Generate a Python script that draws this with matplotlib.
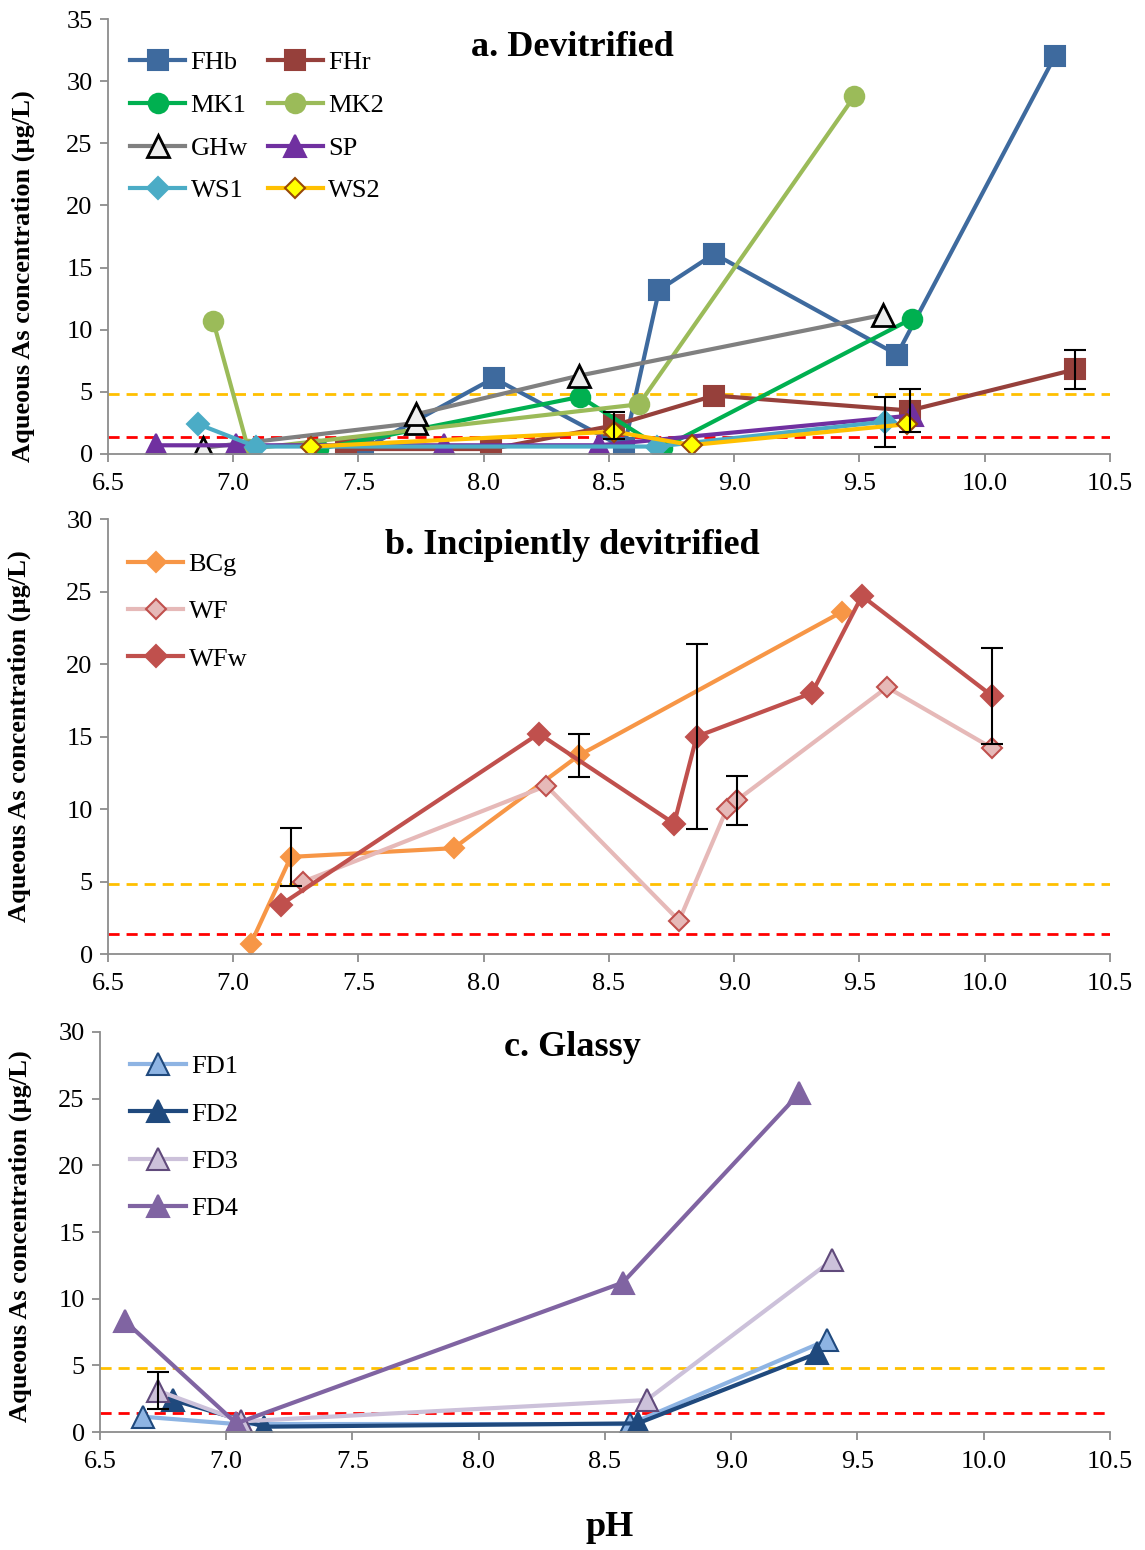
import matplotlib
matplotlib.use("Agg")
import matplotlib.pyplot as plt
from matplotlib.ticker import FormatStrFormatter, MultipleLocator

plt.rcParams['font.family'] = ['Liberation Serif', 'DejaVu Serif']

# guideline concentrations (ug/L)
limit_hi = 4.8
limit_lo = 1.4

# ---- a. Devitrified ----
FHb_pH = [7.52, 8.04, 8.56, 8.70, 8.92, 9.65, 10.28]
FHb_As = [0.4, 6.1, 0.5, 13.2, 16.1, 8.0, 32.0]
FHr_pH = [7.45, 8.03, 8.52, 8.92, 9.70, 10.36]
FHr_As = [0.4, 0.4, 2.3, 4.7, 3.5, 6.8]
MK1_pH = [7.34, 8.385, 8.71, 9.71]
MK1_As = [0.4, 4.6, 0.45, 10.9]
MK2_pH = [6.92, 7.06, 8.62, 9.48]
MK2_As = [10.7, 0.4, 4.0, 28.8]
GHw_pH = [6.88, 7.73, 7.73, 8.38, 9.595]
GHw_As = [0.5, 2.5, 3.2, 6.3, 11.2]
SP_pH = [6.69, 7.01, 7.84, 8.46, 9.71]
SP_As = [0.7, 0.7, 0.7, 0.7, 3.1]
WS1_pH = [6.86, 7.09, 8.69, 9.60]
WS1_As = [2.4, 0.6, 0.6, 2.6]
WS2_pH = [7.31, 8.52, 8.83, 9.69]
WS2_As = [0.6, 1.8, 0.72, 2.4]

errA_pH = [8.52, 9.70, 10.36, 9.60]
errA_As = [2.3, 3.5, 6.8, 2.6]
errA_sd = [1.1, 1.7, 1.6, 2.0]

# ---- b. Incipiently devitrified ----
BCg_pH = [7.07, 7.23, 7.88, 8.38, 9.43]
BCg_As = [0.7, 6.7, 7.3, 13.7, 23.6]
WF_pH = [7.28, 8.25, 8.78, 8.97, 9.01, 9.61, 10.03]
WF_As = [5.0, 11.6, 2.3, 10.0, 10.6, 18.4, 14.2]
WFw_pH = [7.19, 8.22, 8.76, 8.85, 9.31, 9.51, 10.03]
WFw_As = [3.4, 15.2, 9.0, 15.0, 18.0, 24.7, 17.8]

errB_pH = [7.23, 8.38, 8.85, 9.01, 10.03]
errB_As = [6.7, 13.7, 15.0, 10.6, 17.8]
errB_sd = [2.0, 1.5, 6.4, 1.7, 3.3]

# ---- c. Glassy ----
FD1_pH = [6.67, 7.04, 8.60, 9.38]
FD1_As = [1.15, 0.6, 0.6, 6.9]
FD2_pH = [6.79, 7.15, 8.63, 9.34]
FD2_As = [2.4, 0.4, 0.65, 5.9]
FD3_pH = [6.73, 7.06, 8.665, 9.40]
FD3_As = [3.1, 0.8, 2.4, 12.9]
FD4_pH = [6.60, 7.04, 8.57, 9.27]
FD4_As = [8.3, 0.65, 11.2, 25.4]

errC_pH = [6.73]
errC_As = [3.1]
errC_sd = [1.4]

ylab = 'Aqueous As concentration (\u00b5g/L)'
FS = 19

fig = plt.figure(figsize=(11.45, 15.5), dpi=100)
axA = fig.add_axes([0.0943, 0.7071, 0.8751, 0.2806])
axB = fig.add_axes([0.0943, 0.3845, 0.8751, 0.2806])
axC = fig.add_axes([0.0873, 0.0761, 0.8821, 0.2581])


def style(ax, ymax, labx, laby):
    ax.set_xlim(6.5, 10.5)
    ax.set_ylim(0, ymax)
    ax.xaxis.set_major_locator(MultipleLocator(0.5))
    ax.yaxis.set_major_locator(MultipleLocator(5))
    ax.xaxis.set_major_formatter(FormatStrFormatter('%.1f'))
    for s in ['top', 'right']:
        ax.spines[s].set_visible(False)
    for s in ['left', 'bottom']:
        ax.spines[s].set_color('#8c8c8c')
        ax.spines[s].set_linewidth(1.3)
    ax.tick_params(direction='out', length=6, width=1.3, color='#8c8c8c',
                   labelsize=FS, pad=5)
    ax.tick_params(axis='x', pad=8)
    ax.axhline(limit_hi, color='#FFC000', lw=2, ls=(0, (4, 2.5)), zorder=1)
    ax.axhline(limit_lo, color='#FF0000', lw=2, ls=(0, (4, 2.5)), zorder=1)
    ax.set_ylabel(ylab, fontsize=19, fontweight='bold')
    ax.yaxis.set_label_coords(labx, laby)


def series(ax, x, y, color, marker, ms, mfc=None, mec=None, mew=1.5, label=None):
    return ax.plot(x, y, color=color, lw=3, marker=marker, ms=ms,
                   mfc=mfc if mfc else color, mec=mec if mec else color,
                   mew=mew, label=label, solid_joinstyle='miter')[0]


def bars(ax, x, y, err):
    ax.errorbar(x, y, yerr=err, fmt='none', ecolor='black',
                elinewidth=1.5, capsize=8, capthick=1.5, zorder=5)


leg_kw = dict(loc='upper left', frameon=False, fontsize=FS, handlelength=2.1,
              handletextpad=0.2, borderaxespad=0, borderpad=0)

# panel a
style(axA, 35, -0.073, 0.41)
hA = {}
hA['FHb'] = series(axA, FHb_pH, FHb_As, '#3E6A9E', 's', 14, label='FHb')
hA['FHr'] = series(axA, FHr_pH, FHr_As, '#96403B', 's', 14, label='FHr')
hA['MK1'] = series(axA, MK1_pH, MK1_As, '#00B050', 'o', 14, label='MK1')
hA['MK2'] = series(axA, MK2_pH, MK2_As, '#9BBB59', 'o', 14, label='MK2')
hA['GHw'] = series(axA, GHw_pH, GHw_As, '#808080', '^', 16, mfc='#EEEEEE', mec='black', mew=2, label='GHw')
hA['SP'] = series(axA, SP_pH, SP_As, '#7030A0', '^', 16, label='SP')
hA['WS1'] = series(axA, WS1_pH, WS1_As, '#4BACC6', 'D', 11, label='WS1')
hA['WS2'] = series(axA, WS2_pH, WS2_As, '#FFC000', 'D', 10, mfc='#FFFF00', mec='#984807', label='WS2')
bars(axA, errA_pH, errA_As, errA_sd)
order = ['FHb', 'MK1', 'GHw', 'WS1', 'FHr', 'MK2', 'SP', 'WS2']
axA.legend([hA[k] for k in order], order, ncol=2, bbox_to_anchor=(0.022, 0.927),
           labelspacing=0.73, columnspacing=0.75, **leg_kw)
fig.text(0.5, 1 - 47 / 1550, 'a. Devitrified', fontsize=26, fontweight='bold',
         ha='center', va='center')

# panel b
style(axB, 30, -0.077, 0.5)
series(axB, BCg_pH, BCg_As, '#F79646', 'D', 10.5, label='BCg')
series(axB, WF_pH, WF_As, '#E6B9B8', 'D', 10.5, mec='#C0504D', label='WF')
series(axB, WFw_pH, WFw_As, '#C0504D', 'D', 11.5, label='WFw')
bars(axB, errB_pH, errB_As, errB_sd)
axB.legend(bbox_to_anchor=(0.02, 0.923), labelspacing=0.9, **leg_kw)
fig.text(0.5, 1 - 546 / 1550, 'b. Incipiently devitrified', fontsize=26,
         fontweight='bold', ha='center', va='center')

# panel c
style(axC, 30, -0.067, 0.49)
series(axC, FD1_pH, FD1_As, '#8EB4E3', '^', 16, mec='#1F497D', label='FD1')
series(axC, FD2_pH, FD2_As, '#1F497D', '^', 16, label='FD2')
series(axC, FD3_pH, FD3_As, '#CCC1DA', '^', 16, mec='#604A7B', label='FD3')
series(axC, FD4_pH, FD4_As, '#8064A2', '^', 16, label='FD4')
bars(axC, errC_pH, errC_As, errC_sd)
axC.legend(bbox_to_anchor=(0.03, 0.9425), labelspacing=0.9, **leg_kw)
fig.text(0.5, 1 - 1047 / 1550, 'c. Glassy', fontsize=26, fontweight='bold',
         ha='center', va='center')
fig.text(610 / 1145, 1 - 1527 / 1550, 'pH', fontsize=26, fontweight='bold',
         ha='center', va='center')

fig.savefig('out.png', dpi=100)
